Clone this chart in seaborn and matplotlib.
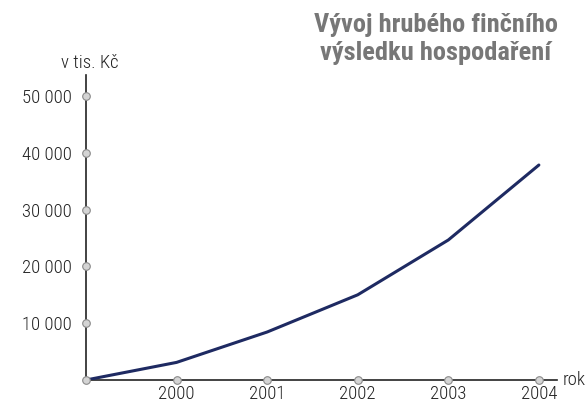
import matplotlib
matplotlib.use("Agg")
import matplotlib.pyplot as plt
import seaborn as sns
import pandas as pd

years = [1999, 2000, 2001, 2002, 2003, 2004]
profit = [0, 3100, 8450, 15000, 24650, 37850]
year_ticks = [2000, 2001, 2002, 2003, 2004]
value_ticks = [0, 10000, 20000, 30000, 40000, 50000]
value_labels = ["", "10 000", "20 000", "30 000", "40 000", "50 000"]

sns.set_style("white")
plt.rcParams["font.family"] = ["Roboto Condensed", "DejaVu Sans"]

df = pd.DataFrame({"rok": years, "zisk": profit})

fig = plt.figure(figsize=(5.87, 4.03), dpi=100)
ax = fig.add_axes([86 / 587, 23 / 403, 471 / 587, 305 / 403])

sns.lineplot(data=df, x="rok", y="zisk", ax=ax, color="#1e2a62", linewidth=2.2, zorder=3)

ax.set_xlim(1999, 2004.2)
ax.set_ylim(0, 53700)
for side in ["top", "right"]:
    ax.spines[side].set_visible(False)
for side in ["left", "bottom"]:
    ax.spines[side].set_color("#222222")
    ax.spines[side].set_linewidth(1.2)

# round tick markers
ax.scatter([1999] * len(value_ticks), value_ticks, s=30, facecolor="#d4d4d4",
           edgecolor="#8a8a8a", linewidth=0.8, zorder=5, clip_on=False)
ax.scatter(year_ticks, [0] * len(year_ticks), s=30, facecolor="#d4d4d4",
           edgecolor="#8a8a8a", linewidth=0.8, zorder=5, clip_on=False)

ax.set_xticks(year_ticks)
ax.set_xticklabels([str(y) for y in year_ticks])
ax.set_yticks(value_ticks)
ax.set_yticklabels(value_labels)
ax.tick_params(axis="both", length=0, labelsize=13.5, colors="#222222")
for lbl in ax.get_xticklabels() + ax.get_yticklabels():
    lbl.set_fontweight("light")
ax.tick_params(axis="y", pad=10)
ax.tick_params(axis="x", pad=3.5)
ax.set_xlabel("")
ax.set_ylabel("")

fig.text(61 / 587, 1 - 68 / 403, "v tis. Kč", fontsize=13.5, fontweight="light",
         color="#222222", ha="left", va="baseline")
fig.text(563 / 587, 1 - 380 / 403, "rok", fontsize=13.5, fontweight="light",
         color="#222222", ha="left", va="center")
fig.text(436 / 587, 1 - 32 / 403, "Vývoj hrubého finčního", fontsize=19,
         fontweight="heavy", color="#777777", ha="center", va="baseline")
fig.text(436 / 587, 1 - 60 / 403, "výsledku hospodaření", fontsize=19,
         fontweight="heavy", color="#777777", ha="center", va="baseline")

fig.savefig("out.png", dpi=100)
